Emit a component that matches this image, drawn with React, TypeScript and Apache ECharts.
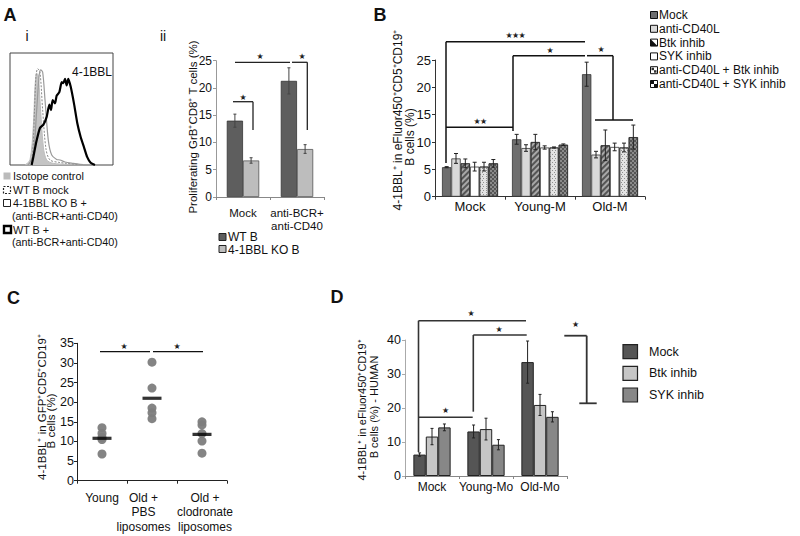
import React, { useEffect, useRef } from 'react';
import * as echarts from 'echarts';

const FONT = '"Liberation Sans", Arial, Helvetica, sans-serif';

// ---------- Panel A i (histogram, x/y in % of box) ----------
const histIsotope = [[14.6,0],[19.4,4.5],[22.6,34],[24.3,70],[25.9,82],[27.5,80],[29.1,58],[32.4,16],[35.6,4.5],[42,1.5],[55,0.6],[71,0]];
const histWTMock = [[17.2,0],[21.4,6],[23.8,49],[25.2,79],[26.9,86],[29.1,83],[31.7,49],[35,14],[38.8,4.5],[47,2.4],[55,1.5],[68,0.3]];
const histKO = [[17.8,0],[22.6,8.9],[25.9,49],[28.2,79],[29.8,85],[31.7,83],[34,58],[37.2,22],[40.5,8.9],[45.3,5],[48.5,4.5],[53.4,2.7],[61.5,1.5],[71,0.3]];
const histWTStim = [[21,0],[22.6,7],[25.9,22],[29.1,33],[32.4,36],[35.6,43],[38.2,54],[39.8,49],[41.4,58],[43.7,55],[45.3,62],[47.9,65],[50.2,74],[51.8,73],[53.4,77],[55,71],[56.6,77],[58.9,70],[62.1,55],[65.4,37],[68.6,25],[71.8,16],[75,7],[78.3,2],[82.5,0]];
const aiLegend = ['Isotope control', 'WT B mock', '4-1BBL KO B +', '(anti-BCR+anti-CD40)', 'WT B +', '(anti-BCR+anti-CD40)'];

// ---------- Panel A ii ----------
const aiiCategories = ['Mock', 'anti-BCR+\nanti-CD40'];
const aiiWT = [14.0, 21.3];
const aiiWTErr = [1.2, 2.4];
const aiiKO = [6.7, 8.8];
const aiiKOErr = [0.5, 0.8];
const aiiTicks = [0, 5, 10, 15, 20, 25];

// ---------- Panel B ----------
const bCategories = ['Mock', 'Young-M', 'Old-M'];
const bNames = ['Mock', 'anti-CD40L', 'Btk inhib', 'SYK inhib', 'anti-CD40L + Btk inhib', 'anti-CD40L + SYK inhib'];
const bMock = [5.4, 10.5, 22.4];
const bMockErr = [0.1, 0.9, 2.2];
const bAntiCD40L = [7.0, 8.9, 7.7];
const bAntiCD40LErr = [0.9, 0.6, 0.6];
const bBtk = [6.1, 10.0, 9.4];
const bBtkErr = [0.8, 1.4, 2.8];
const bSYK = [5.5, 9.0, 9.1];
const bSYKErr = [0.8, 0.3, 0.7];
const bAntiBtk = [5.5, 9.0, 9.0];
const bAntiBtkErr = [0.8, 0.1, 0.8];
const bAntiSYK = [6.1, 9.5, 10.9];
const bAntiSYKErr = [0.7, 0.15, 2.2];
const bTicks = [0, 5, 10, 15, 20, 25];

// ---------- Panel C ----------
const cCategories = ['Young', 'Old +\nPBS\nliposomes', 'Old +\nclodronate\nliposomes'];
const cYoung = [13.5, 12.0, 11.0, 10.5, 6.8];
const cOldPBS = [30.2, 23.6, 18.5, 17.3, 15.8];
const cOldClod = [15.0, 14.2, 12.0, 10.1, 7.0];
const cMeans = [10.8, 21.0, 11.8];
const cTicks = [0, 5, 10, 15, 20, 25, 30, 35];

// ---------- Panel D ----------
const dCategories = ['Mock', 'Young-Mo', 'Old-Mo'];
const dNames = ['Mock', 'Btk inhib', 'SYK inhib'];
const dMock = [6.3, 13.1, 33.5];
const dMockErr = [0.5, 1.9, 6.2];
const dBtk = [11.6, 13.8, 20.9];
const dBtkErr = [2.4, 3.2, 3.1];
const dSYK = [14.3, 9.2, 17.4];
const dSYKErr = [1.0, 1.5, 1.5];
const dTicks = [0, 10, 20, 30, 40];

function errSeries(axis: number, idx: number, n: number, gap: number, means: number[], errs: number[], color: string, cap: number, lw = 1) {
  return {
    type: 'custom',
    xAxisIndex: axis,
    yAxisIndex: axis,
    silent: true,
    z: 10,
    data: means.map((m, i) => [i, m - errs[i], m + errs[i]]),
    renderItem: (params: any, api: any) => {
      const c = api.value(0);
      const lo = api.coord([c, api.value(1)]);
      const hi = api.coord([c, api.value(2)]);
      const catW = api.size([1, 0])[0];
      const bw = (catW * (1 - gap)) / n;
      const x = lo[0] + (idx - (n - 1) / 2) * bw;
      const st = { stroke: color, lineWidth: lw };
      return {
        type: 'group',
        children: [
          { type: 'line', shape: { x1: x, y1: lo[1], x2: x, y2: hi[1] }, style: st },
          { type: 'line', shape: { x1: x - cap, y1: hi[1], x2: x + cap, y2: hi[1] }, style: st },
          { type: 'line', shape: { x1: x - cap, y1: lo[1], x2: x + cap, y2: lo[1] }, style: st },
        ],
      };
    },
  };
}

const L = (x1: number, y1: number, x2: number, y2: number, stroke = '#111', w = 1.3) => ({
  type: 'line', silent: true, shape: { x1, y1, x2, y2 }, style: { stroke, lineWidth: w },
});
const T = (x: number, y: number, t: string, size = 12, extra: any = {}, rot = 0) => ({
  type: 'text', silent: true, x, y, rotation: rot,
  style: { text: t, fontFamily: FONT, fontSize: size, fill: '#111', textAlign: 'center', textVerticalAlign: 'middle', ...extra },
});
const TL = (x: number, y: number, t: string, size = 11.5, extra: any = {}) => T(x, y, t, size, { textAlign: 'left', ...extra });
const STAR = (x: number, y: number, t = '★') => T(x, y, t, 8, { fontFamily: '"DejaVu Sans", sans-serif', fill: '#222' });
const R = (x: number, y: number, w: number, h: number, fill: string, stroke = '#222', lw = 1, dash: any = null) => ({
  type: 'rect', silent: true, shape: { x, y, width: w, height: h },
  style: { fill, stroke, lineWidth: lw, lineDash: dash },
});
const ROT = Math.PI / 2;

function yAxisCfg(grid: number, ticks: number[], lineColor: string, fontSize: number, margin: number) {
  return {
    type: 'value', gridIndex: grid, min: ticks[0], max: ticks[ticks.length - 1], interval: ticks[1] - ticks[0],
    axisLine: { show: true, lineStyle: { color: lineColor, width: 1 } },
    axisTick: { show: true, length: 3, lineStyle: { color: lineColor } },
    axisLabel: { fontFamily: FONT, fontSize, color: '#111', margin },
    splitLine: { show: false },
  };
}
function xAxisCfg(grid: number, cats: string[], lineColor: string, fontSize: number, margin: number, lh: number, extraLabel: any = {}) {
  return {
    type: 'category', gridIndex: grid, data: cats,
    axisLine: { show: true, lineStyle: { color: lineColor, width: 1 } },
    axisTick: { show: true, length: 3, lineStyle: { color: lineColor } },
    axisLabel: { fontFamily: FONT, fontSize, color: '#111', margin, interval: 0, lineHeight: lh, ...extraLabel },
    splitLine: { show: false },
  };
}

function buildOption() {
  const bGap = 0.2;
  const dGap = 0.31;
  const aGap = 0.4;
  const bColors = ['#6e6e6e', '#d9d9d9', '#a8a8a8', '#ffffff', '#e4e4e4', '#8a8a8a'];
  const bDecals: any[] = [
    null, null,
    { symbol: 'rect', symbolSize: 1, dashArrayX: [1, 0], dashArrayY: [1.2, 1.6], rotation: -Math.PI / 4, color: 'rgba(40,40,40,0.65)' },
    null,
    { symbol: 'rect', symbolSize: 1, dashArrayX: [[1, 2], [0, 1.5, 1, 0.5]], dashArrayY: [1, 1], color: 'rgba(90,90,90,0.6)' },
    { symbol: 'rect', symbolSize: 1, dashArrayX: [[1.5, 1.5], [0, 1.5, 1.5, 0]], dashArrayY: [1.5, 0], color: 'rgba(50,50,50,0.6)' },
  ];
  const bVals = [bMock, bAntiCD40L, bBtk, bSYK, bAntiBtk, bAntiSYK];
  const bErrs = [bMockErr, bAntiCD40LErr, bBtkErr, bSYKErr, bAntiBtkErr, bAntiSYKErr];
  const dColors = ['#555555', '#c6c6c6', '#878787'];
  const dVals = [dMock, dBtk, dSYK];
  const dErrs = [dMockErr, dBtkErr, dSYKErr];

  const series: any[] = [];
  // A ii bars
  series.push({ type: 'bar', name: 'WT B', xAxisIndex: 0, yAxisIndex: 0, data: aiiWT, barGap: '0%', barCategoryGap: '40%', itemStyle: { color: '#5e5e5e', borderColor: '#333', borderWidth: 0.8 } });
  series.push({ type: 'bar', name: '4-1BBL KO B', xAxisIndex: 0, yAxisIndex: 0, data: aiiKO, barGap: '0%', barCategoryGap: '40%', itemStyle: { color: '#bdbdbd', borderColor: '#555', borderWidth: 0.8 } });
  series.push(errSeries(0, 0, 2, aGap, aiiWT, aiiWTErr, '#444', 1.5));
  series.push(errSeries(0, 1, 2, aGap, aiiKO, aiiKOErr, '#444', 1.5));
  // B bars
  bVals.forEach((v, i) => {
    const is: any = { color: bColors[i], borderColor: '#333', borderWidth: 0.8 };
    if (bDecals[i]) is.decal = bDecals[i];
    series.push({ type: 'bar', name: bNames[i], xAxisIndex: 1, yAxisIndex: 1, data: v, barGap: '0%', barCategoryGap: '20%', itemStyle: is });
  });
  bVals.forEach((v, i) => series.push(errSeries(1, i, 6, bGap, v, bErrs[i], '#222', 2)));
  // C scatter
  const cData: any[] = [];
  [cYoung, cOldPBS, cOldClod].forEach((arr, ci) => arr.forEach((v) => cData.push([ci, v])));
  series.push({ type: 'scatter', xAxisIndex: 2, yAxisIndex: 2, data: cData, symbolSize: 9, itemStyle: { color: '#7d7d7d', opacity: 0.95 } });
  series.push({ type: 'scatter', xAxisIndex: 2, yAxisIndex: 2, z: 5, data: cMeans.map((m, i) => [i, m]), symbol: 'rect', symbolSize: [19, 3.2], itemStyle: { color: '#000' } });
  // D bars
  dVals.forEach((v, i) => {
    series.push({ type: 'bar', name: dNames[i], xAxisIndex: 3, yAxisIndex: 3, data: v, barGap: '0%', barCategoryGap: '31%', itemStyle: { color: dColors[i], borderColor: '#222', borderWidth: 1 } });
  });
  dVals.forEach((v, i) => series.push(errSeries(3, i, 3, dGap, v, dErrs[i], '#222', 1.5)));
  // A i histogram
  series.push({ type: 'line', xAxisIndex: 4, yAxisIndex: 4, data: histIsotope, symbol: 'none', smooth: 0.3, lineStyle: { color: '#bdbdbd', width: 1 }, areaStyle: { color: '#c4c4c4', opacity: 1 }, z: 1 });
  series.push({ type: 'line', xAxisIndex: 4, yAxisIndex: 4, data: histWTMock, symbol: 'none', smooth: 0.3, lineStyle: { color: '#888', width: 1, type: [2, 1.5] }, z: 2 });
  series.push({ type: 'line', xAxisIndex: 4, yAxisIndex: 4, data: histKO, symbol: 'none', smooth: 0.3, lineStyle: { color: '#9a9a9a', width: 1.2 }, z: 3 });
  series.push({ type: 'line', xAxisIndex: 4, yAxisIndex: 4, data: histWTStim, symbol: 'none', smooth: 0.2, lineStyle: { color: '#000', width: 2.2 }, z: 4 });

  const g: any[] = [];
  // Panel letters
  g.push(T(10, 15, 'A', 18, { fontWeight: 'bold' }));
  g.push(T(27, 36, 'i', 14));
  g.push(T(163, 36, 'ii', 14));
  g.push(T(380, 15, 'B', 18, { fontWeight: 'bold' }));
  g.push(T(13.5, 298, 'C', 18, { fontWeight: 'bold' }));
  g.push(T(337, 297, 'D', 18, { fontWeight: 'bold' }));
  // A i
  g.push(T(92, 72, '4-1BBL', 12));
  const aly = [176, 190, 203, 215.5, 229.5, 242];
  const aFs = 10.8;
  g.push(R(3.5, aly[0] - 3.5, 7, 7, '#bbb', 'none', 0));
  g.push(TL(13, aly[0], aiLegend[0], aFs));
  g.push(R(3.5, aly[1] - 3.5, 7, 7, '#fff', '#222', 1.2, [2, 1.5]));
  g.push(TL(13, aly[1], aiLegend[1], aFs));
  g.push(R(3.5, aly[2] - 3.5, 7, 7, '#fff', '#222', 1));
  g.push(TL(13, aly[2], aiLegend[2], aFs));
  g.push(TL(12, aly[3], aiLegend[3], aFs));
  g.push(R(4, aly[4] - 3.5, 7, 7, '#fff', '#000', 2.4));
  g.push(TL(13, aly[4], aiLegend[4], aFs));
  g.push(TL(12, aly[5], aiLegend[5], aFs));
  // A ii
  g.push(T(193, 127, 'Proliferating GrB⁺CD8⁺ T cells (%)', 11.5, {}, ROT));
  g.push(R(219, 233.5, 7, 7, '#5e5e5e', '#222', 1));
  g.push(TL(228, 237, 'WT B', 12));
  g.push(R(219, 245.5, 7, 7, '#bdbdbd', '#222', 1));
  g.push(TL(228, 249.5, '4-1BBL KO B', 12));
  g.push(L(233, 101.7, 253, 101.7, '#222', 1.3));
  g.push(L(253, 101.7, 253, 130, '#222', 1.3));
  g.push(STAR(243, 97));
  g.push(L(235, 62.3, 290, 62.3, '#222', 1.3));
  g.push(STAR(260, 56));
  g.push(L(292, 62.3, 307.3, 62.3, '#222', 1.3));
  g.push(L(307.3, 62.3, 307.3, 130, '#222', 1.3));
  g.push(STAR(302, 56));
  // B
  g.push(T(398, 120, '4-1BBL⁺ in eFluor450⁺CD5⁺CD19⁺', 12, {}, ROT));
  g.push(T(410, 137, 'B cells (%)', 12, {}, ROT));
  g.push(L(446, 41.7, 446, 163, '#111', 1.5));
  g.push(L(446, 41.7, 585, 41.7, '#111', 1.5));
  g.push(STAR(509, 35)); g.push(STAR(515.5, 35)); g.push(STAR(522, 35));
  g.push(L(446, 127.3, 513, 127.3, '#111', 1.5));
  g.push(STAR(477, 121)); g.push(STAR(483.5, 121));
  g.push(L(513, 55.7, 513, 131, '#111', 1.5));
  g.push(L(513, 55.7, 585, 55.7, '#111', 1.5));
  g.push(STAR(550, 50));
  g.push(L(587, 55.7, 613, 55.7, '#111', 1.5));
  g.push(L(613, 55.7, 613, 120, '#111', 1.5));
  g.push(L(595, 120, 633, 120, '#111', 1.5));
  g.push(STAR(601, 49));
  // B legend
  const bly = [15, 28.8, 42.6, 56.4, 70.2, 84];
  g.push(R(650.5, bly[0] - 3.5, 7, 7, '#6e6e6e', '#111', 1));
  g.push(R(650.5, bly[1] - 3.5, 7, 7, '#d9d9d9', '#111', 1));
  g.push(R(650.5, bly[2] - 3.5, 7, 7, '#fff', '#111', 1));
  g.push({ type: 'polygon', silent: true, shape: { points: [[650.5, bly[2] - 3.5], [650.5, bly[2] + 3.5], [657.5, bly[2] + 3.5]] }, style: { fill: '#111' } });
  g.push(R(650.5, bly[3] - 3.5, 7, 7, '#fff', '#111', 1));
  g.push(R(650.5, bly[4] - 3.5, 7, 7, '#fff', '#111', 1));
  g.push(R(651.5, bly[4] - 2.5, 2.5, 2.5, '#333', 'none', 0));
  g.push(R(654, bly[4], 2.5, 2.5, '#333', 'none', 0));
  g.push(R(650.5, bly[5] - 3.5, 7, 7, '#fff', '#111', 1));
  g.push(R(650.5, bly[5] - 3.5, 3.5, 3.5, '#111', 'none', 0));
  g.push(R(654, bly[5], 3.5, 3.5, '#111', 'none', 0));
  bNames.forEach((n, i) => g.push(TL(659, bly[i], n, 12)));
  // C
  g.push(T(42, 407, '4-1BBL⁺ in GFP⁺CD5⁺CD19⁺', 11.5, {}, ROT));
  g.push(T(51, 421, 'B cells (%)', 11.5, {}, ROT));
  g.push(L(100, 351.7, 150, 351.7, '#111', 1.3));
  g.push(STAR(124, 346));
  g.push(L(153, 351.7, 203, 351.7, '#111', 1.3));
  g.push(STAR(177, 346));
  // D
  g.push(T(362, 410, '4-1BBL⁺ in eFluor450⁺CD19⁺', 11, {}, ROT));
  g.push(T(374, 407, 'B cells (%) - HUMAN', 11, {}, ROT));
  const dc = '#333';
  g.push(L(418.5, 320.7, 418.5, 452, dc, 1.6));
  g.push(L(418.5, 320.7, 526, 320.7, dc, 1.6));
  g.push(STAR(471, 313));
  g.push(L(473.3, 335, 473.3, 411.7, dc, 1.6));
  g.push(L(473.3, 335, 526.7, 335, dc, 1.6));
  g.push(STAR(499, 329));
  g.push(L(419, 417.3, 472.7, 417.3, dc, 1.6));
  g.push(STAR(445.7, 410));
  g.push(L(564.3, 335.7, 586.7, 335.7, dc, 1.8));
  g.push(L(586.7, 335.7, 586.7, 403.3, dc, 1.8));
  g.push(L(579.3, 403.3, 596.7, 403.3, dc, 1.8));
  g.push(STAR(575.7, 324));
  const dly = [351.7, 373.3, 395];
  dNames.forEach((n, i) => {
    g.push(R(623, dly[i] - 7, 14.5, 14, dColors[i], '#222', 1.2));
    g.push(TL(649, dly[i], n, 12.5));
  });

  const cLabelFmt = (v: string, i: number) => {
    const key = i === 1 ? 'l' : i === 2 ? 'r' : 'c';
    return v.split('\n').map((s) => `{${key}|${s}}`).join('\n');
  };

  return {
    animation: false,
    backgroundColor: '#fff',
    textStyle: { fontFamily: FONT },
    grid: [
      { left: 216, top: 60.7, width: 108, height: 136.3 },
      { left: 435, top: 60, width: 210, height: 136.7 },
      { left: 77, top: 343.3, width: 150, height: 137.4 },
      { left: 405, top: 340, width: 162, height: 136 },
      { left: 10, top: 53, width: 103, height: 112, show: true, borderColor: '#444', borderWidth: 1, backgroundColor: 'transparent' },
    ],
    xAxis: [
      xAxisCfg(0, aiiCategories, '#888', 11.5, 9, 13),
      xAxisCfg(1, bCategories, '#333', 13, 3, 14),
      xAxisCfg(2, cCategories, '#222', 12, 10, 14.5, {
        formatter: cLabelFmt,
        rich: {
          c: { fontFamily: FONT, fontSize: 12, lineHeight: 14.5, color: '#111' },
          l: { fontFamily: FONT, fontSize: 12, lineHeight: 14.5, color: '#111', padding: [0, 17, 0, 0] },
          r: { fontFamily: FONT, fontSize: 12, lineHeight: 14.5, color: '#111', padding: [0, 0, 0, 6] },
        },
      }),
      xAxisCfg(3, dCategories, '#888', 12, 4, 14),
      { type: 'value', gridIndex: 4, min: 0, max: 100, show: false },
    ],
    yAxis: [
      yAxisCfg(0, aiiTicks, '#999', 12, 4),
      yAxisCfg(1, bTicks, '#333', 13, 4),
      yAxisCfg(2, cTicks, '#222', 12.5, 3),
      yAxisCfg(3, dTicks, '#aaa', 12.5, 4),
      { type: 'value', gridIndex: 4, min: 0, max: 100, show: false },
    ],
    series,
    graphic: g,
  };
}

export default function App() {
  const ref = useRef<HTMLDivElement>(null);
  useEffect(() => {
    document.body.style.margin = '0';
    const chart = echarts.init(ref.current!, null, { renderer: 'svg' });
    chart.setOption(buildOption() as any);
    return () => chart.dispose();
  }, []);
  return <div ref={ref} style={{ width: 800, height: 536 }} />;
}
